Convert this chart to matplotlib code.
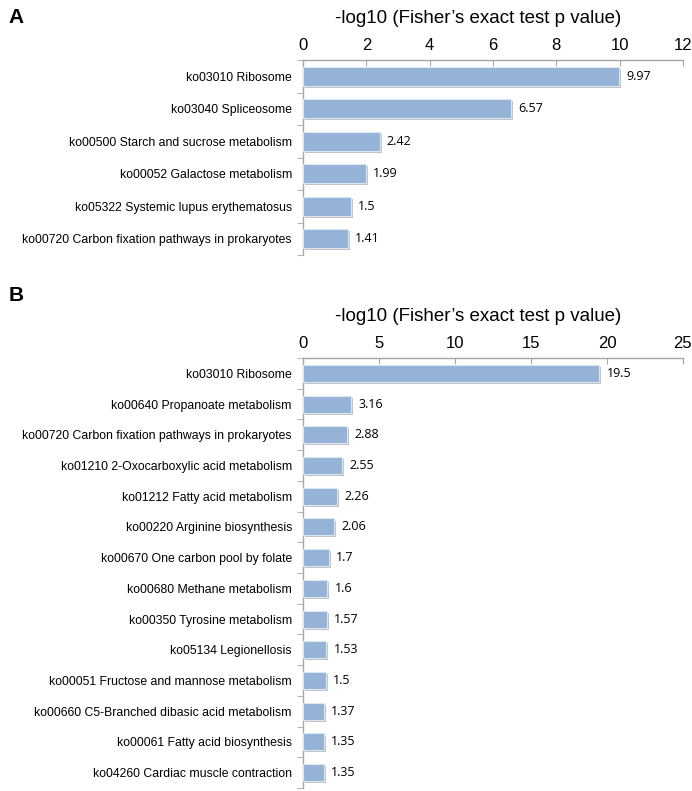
import numpy as np
import matplotlib.pyplot as plt
import matplotlib.patheffects as pe

# Panel A data
terms_a = ['ko03010 Ribosome', 'ko03040 Spliceosome',
           'ko00500 Starch and sucrose metabolism', 'ko00052 Galactose metabolism',
           'ko05322 Systemic lupus erythematosus',
           'ko00720 Carbon fixation pathways in prokaryotes']
vals_a = [9.97, 6.57, 2.42, 1.99, 1.5, 1.41]
ticks_a = [0, 2, 4, 6, 8, 10, 12]

# Panel B data
terms_b = ['ko03010 Ribosome', 'ko00640 Propanoate metabolism',
           'ko00720 Carbon fixation pathways in prokaryotes',
           'ko01210 2-Oxocarboxylic acid metabolism', 'ko01212 Fatty acid metabolism',
           'ko00220 Arginine biosynthesis', 'ko00670 One carbon pool by folate',
           'ko00680 Methane metabolism', 'ko00350 Tyrosine metabolism',
           'ko05134 Legionellosis', 'ko00051 Fructose and mannose metabolism',
           'ko00660 C5-Branched dibasic acid metabolism',
           'ko00061 Fatty acid biosynthesis', 'ko04260 Cardiac muscle contraction']
vals_b = [19.5, 3.16, 2.88, 2.55, 2.26, 2.06, 1.7, 1.6, 1.57, 1.53, 1.5, 1.37, 1.35, 1.35]
ticks_b = [0, 5, 10, 15, 20, 25]

title = '-log10 (Fisher\u2019s exact test p value)'
bar_col = '#95b3d7'
spine_col = '#a6a6a6'

plt.rcParams['font.family'] = ['Liberation Sans', 'DejaVu Sans']

fig = plt.figure(figsize=(6.92, 7.91), dpi=100)
ax_a = fig.add_axes([0.4379, 0.6776, 0.549, 0.2465])
ax_b = fig.add_axes([0.4379, 0.0038, 0.549, 0.5436])


def draw_panel(ax, terms, vals, ticks, bar_h):
    n = len(terms)
    y = np.arange(n)
    bars = ax.barh(y, vals, height=bar_h, color=bar_col, edgecolor='#dce6f2',
                   linewidth=0.8, zorder=3)
    for b in bars:
        b.set_path_effects([pe.SimplePatchShadow(offset=(1.5, -1.5),
                                                 shadow_rgbFace='#9a9a9a', alpha=0.6),
                            pe.Normal()])
    for yi, v in zip(y, vals):
        ax.text(v + ticks[-1] * 0.019, yi, f'{v:g}', va='center', ha='left',
                fontsize=9, family='Open Sans')
    ax.set_ylim(n - 0.5, -0.5)
    ax.set_xlim(ticks[0], ticks[-1])
    ax.set_xticks(ticks)
    ax.xaxis.tick_top()
    ax.tick_params(axis='x', direction='in', length=4, color=spine_col,
                   labelsize=12, pad=5)
    ax.set_yticks(y)
    ax.set_yticklabels(terms, fontsize=8.8)
    ax.set_yticks(np.arange(n + 1) - 0.5, minor=True)
    ax.tick_params(axis='y', which='major', length=0, pad=8)
    ax.tick_params(axis='y', which='minor', direction='out', length=4, color=spine_col)
    for s in ['right', 'bottom']:
        ax.spines[s].set_visible(False)
    for s in ['top', 'left']:
        ax.spines[s].set_color(spine_col)
        ax.spines[s].set_linewidth(1.0)
    ax.set_title(title, fontsize=13.5, pad=27, x=0.46)


draw_panel(ax_a, terms_a, vals_a, ticks_a, 0.58)
draw_panel(ax_b, terms_b, vals_b, ticks_b, 0.55)

fig.text(0.012, 0.978, 'A', fontsize=15, fontweight='bold', va='center')
fig.text(0.012, 0.626, 'B', fontsize=15, fontweight='bold', va='center')

fig.savefig('out.png', dpi=100)
